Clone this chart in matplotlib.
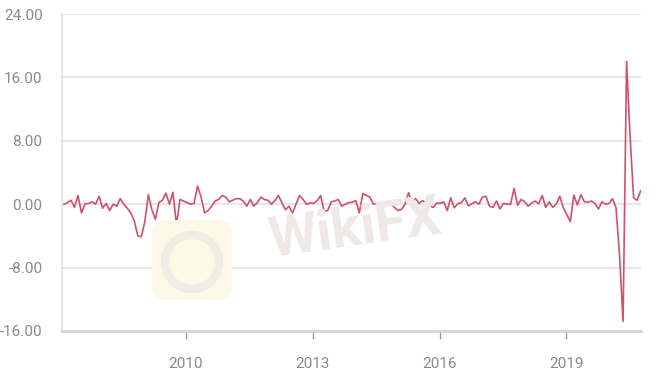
import matplotlib.pyplot as plt
from matplotlib.patches import FancyBboxPatch, Circle
import numpy as np

# monthly change, Jan 2007 .. Sep 2020, split by year
v2007 = [0, 0.2, 0.5, -0.4, 1.1, -1.1, 0.05, 0.1, 0.3, 0, 1.0, -0.5]
v2008 = [0.1, -0.8, 0, -0.25, 0.7, 0, -0.5, -1.1, -2.1, -4.0, -4.1, -2.2]
v2009 = [1.2, -0.7, -1.9, 0.2, 0.5, 1.4, 0, 1.5, -2.6, 0.6, 0.4, 0.2]
v2010 = [0, 0.1, 2.3, 0.9, -1.1, -0.8, -0.25, 0.4, 0.6, 1.1, 0.9, 0.3]
v2011 = [0.5, 0.7, 0.7, 0.4, -0.25, 0.6, -0.25, 0.2, 0.9, 0.6, 0.5, 0]
v2012 = [0.45, 1.1, 0.15, -0.7, -0.25, -1.1, 0, 1.1, 0.6, 0, 0.15, 0.1]
v2013 = [0.45, 1.1, -0.9, -0.8, 0.3, 0.4, 0.6, -0.25, 0, 0.2, 0.25, 0.45]
v2014 = [-1.1, 1.35, 1.1, 0.9, 0, 0.1, 0.2, -0.2, 0.15, 0, -0.4, -0.8]
v2015 = [-0.65, 0, 1.45, 0.2, 0.7, 0.1, 0.45, 0.15, -0.2, -0.4, 0.15, 0.1]
v2016 = [0.3, -0.8, 0.8, -0.45, 0.05, 0.2, 0.8, -0.2, 0.05, 0.3, 0, 0.9]
v2017 = [1.0, -0.25, -0.4, 0.4, -0.6, 0.1, 0, 0, 2.0, -0.15, 0.6, 0.3]
v2018 = [-0.25, 0.15, 0.4, 0.05, 1.1, -0.4, 0.3, -0.4, 0, 1.0, -0.45, -1.3]
v2019 = [-2.2, 1.15, -0.1, 1.2, 0.3, 0.25, 0.4, 0.1, -0.6, 0.3, 0, 0.1]
v2020 = [0.7, -0.45, -6.5, -14.8, 18.0, 8.5, 0.8, 0.5, 1.7]

tick_labels = ['2010', '2013', '2016', '2019']
tick_pos = [34.7, 70.8, 106.9, 142.8]
y_ticks = [-16, -8, 0, 8, 16, 24]

values = (v2007 + v2008 + v2009 + v2010 + v2011 + v2012 + v2013 + v2014
          + v2015 + v2016 + v2017 + v2018 + v2019 + v2020)
x = np.arange(len(values))

plt.rcParams['font.family'] = ['Roboto', 'DejaVu Sans']

fig = plt.figure(figsize=(6.6, 3.88), dpi=100)
ax = fig.add_axes([62 / 660, 1 - 331 / 388, 579 / 660, 317 / 388])

# watermark
logo = FancyBboxPatch((152, 88), 80, 80, boxstyle='round,pad=0,rounding_size=14',
                      transform=None, facecolor='#fdf8e8', edgecolor='none', zorder=0)
fig.patches.append(logo)
fig.patches.append(Circle((192, 126), 27, transform=None, facecolor='none',
                          edgecolor='#f1ece6', linewidth=6, zorder=0))
fig.text(355 / 660, 1 - 230 / 388, 'WikiFX', fontsize=40, fontweight='bold',
         color='#eee9e7', rotation=8, ha='center', va='center', zorder=0)

ax.plot(x, values, color='#d05169', linewidth=1.2, zorder=3)

ax.set_xlim(-0.55, 164.1)
ax.set_ylim(-16, 24)
ax.set_yticks(y_ticks)
ax.set_yticklabels([f'{t:.2f}' for t in y_ticks])
ax.set_xticks(tick_pos)
ax.set_xticklabels(tick_labels)

ax.patch.set_alpha(0)
ax.grid(axis='y', color='#e3e3e3', linewidth=1.2)
ax.set_axisbelow(True)
for s in ['top', 'right']:
    ax.spines[s].set_visible(False)
ax.spines['left'].set_color('#e3e3e3')
ax.spines['left'].set_linewidth(1.2)
ax.spines['bottom'].set_color('#d6d6d6')
ax.spines['bottom'].set_linewidth(2)

ax.tick_params(axis='y', length=0, pad=14, labelsize=11, labelcolor='#8a8a8a')
ax.tick_params(axis='x', length=6, width=1, color='#999999', pad=13,
               labelsize=11, labelcolor='#8a8a8a')

fig.savefig('out.png', dpi=100)
